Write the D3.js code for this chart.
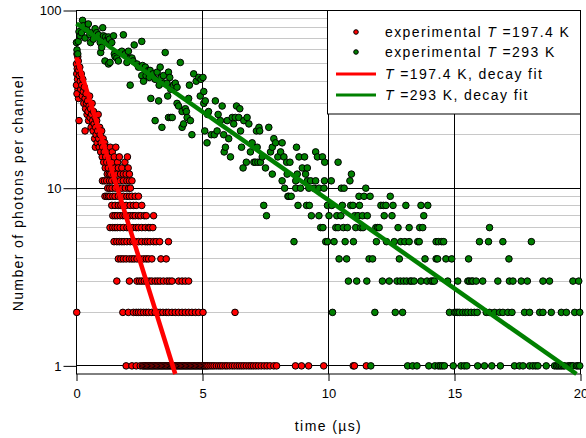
<!DOCTYPE html>
<html><head><meta charset="utf-8">
<script src="https://cdn.jsdelivr.net/npm/d3@7/dist/d3.min.js"></script>
<style>body{margin:0;background:#fff}svg{display:block;font-family:"Liberation Sans",Arial,sans-serif}</style>
</head><body><svg id="c" width="586" height="438"></svg>
<script>
const xTicks=[0,5,10,15,20];
const yTicks=[1,10,100];
const yMinor=[2,3,4,5,6,7,8,9,20,30,40,50,60,70,80,90];
const xTitle="time (µs)";
const yTitle="Number of photons per channel";
const legendTemps=["197.4","293"];
const legendColors=["#ff0000","#008000"];
// fitted single-exponential decays (straight lines on log axis): [t, counts] end points
const redFit=[[0,54.3],[3.92,0.9]];
const greenFit=[[0,84.5],[19.84,0.9]];
// T = 197.4 K, high-count part [time µs, counts]
const redHigh=[[0.00,50],[0.01,44],[0.02,57],[0.03,47],[0.04,41],[0.05,55],[0.06,36],[0.07,52],[0.08,32],[0.09,46],[0.10,24],[0.11,43],[0.00,38],[0.02,34],[0.13,48],[0.15,40],[0.17,36],[0.19,44],[0.21,38],[0.23,33],[0.25,41],[0.27,35],[0.29,30],[0.31,37],[0.34,21],[0.34,32],[0.36,28],[0.38,34],[0.40,30],[0.42,26],[0.44,31],[0.46,27],[0.48,24],[0.50,29],[0.52,33],[0.54,25],[0.56,28],[0.58,22],[0.60,26],[0.62,30],[0.64,24],[0.66,21],[0.68,27],[0.70,23],[0.72,19],[0.74,25],[0.75,17],[0.76,22],[0.78,20],[0.80,24],[0.82,18],[0.84,21],[0.86,26],[0.88,19],[0.90,17],[0.92,22],[0.94,20],[0.96,16],[0.98,18],[1.00,21],[1.02,15],[1.04,17],[1.06,19],[1.08,14],[1.10,16],[1.12,18],[1.14,13],[1.16,15],[1.18,17],[1.20,14],[1.22,12],[1.24,16],[1.26,13],[1.28,15],[1.30,12],[1.32,14],[1.34,17],[1.36,12],[1.38,15],[1.40,13],[1.42,16],[1.45,14],[1.48,12],[1.50,15],[1.53,13],[1.56,17],[1.60,12],[1.63,14],[1.66,13],[1.70,15],[1.75,12],[1.80,13],[1.86,12],[1.92,14],[1.97,12],[2.02,15],[2.05,13],[2.10,12]];
// T = 197.4 K, low-count levels and the times at which each level occurs
const redLevels=[11,10,9,8,7,6,5,4,3,2,1];
const redLevelTimes=[
[1.03,1.11,1.20,1.31,1.40,1.53,1.73,1.86,2.00,2.10,2.20],
[1.24,1.32,1.41,1.54,1.67,1.80,1.94,2.07,2.14],
[1.13,1.20,1.27,1.33,1.44,1.53,1.66,1.76,1.86,2.00,2.10,2.20,2.33,2.46],
[1.40,1.53,1.66,1.76,1.86,1.97,2.13,2.26,2.37,2.59],
[1.44,1.53,1.62,1.73,1.84,1.93,2.02,2.13,2.24,2.33,2.46,2.55,2.69,2.77,3.06],
[1.33,1.44,1.53,1.62,1.73,1.86,2.00,2.10,2.24,2.37,2.46,2.59,2.73,2.86,2.92,3.03],
[1.49,1.60,1.70,1.80,1.89,2.00,2.13,2.24,2.33,2.46,2.59,2.73,2.82,2.92,3.06,3.16,3.30,3.65],
[1.66,1.76,1.86,1.97,2.10,2.20,2.29,2.40,2.53,2.66,2.77,2.86,2.99,3.35,3.56],
[1.60,2.10,2.40,2.50,2.59,2.69,2.79,2.90,2.99,3.12,3.22,3.32,3.45,3.59,3.69,3.79,4.05,4.19,4.32,4.45],
[0.01,1.84,2.06,2.26,2.37,2.46,2.55,2.66,2.77,2.86,2.99,3.12,3.22,3.32,3.43,3.56,3.65,3.79,3.92,4.05,4.19,4.32,4.45,4.58,4.72,4.85,5.02,6.29],
[1.97,2.20,2.37,2.53,2.62,2.67,2.72,2.77,2.82,2.87,2.92,2.97,3.02,3.07,3.12,3.17,3.22,3.27,3.32,3.37,3.42,3.47,3.52,3.57,3.62,3.67,3.72,3.77,3.82,3.87,3.92,3.97,4.02,4.07,4.12,4.17,4.22,4.27,4.32,4.37,4.42,4.47,4.52,4.57,4.62,4.67,4.72,4.77,4.82,4.87,4.92,4.97,5.02,5.07,5.12,5.17,5.22,5.30,5.38,5.46,5.55,5.64,5.72,5.80,5.90,5.98,6.08,6.18,6.27,6.37,6.46,6.55,6.64,6.74,6.84,6.93,7.02,7.12,7.22,7.33,7.45,7.56,7.68,7.83,7.94,8.69,8.93,9.21,9.81,10.98,11.03,11.50]
];
// T = 293 K [time µs, counts]
const greenData=[[0.00,66],[0.02,60],[0.05,57],[0.07,67],[0.10,76],[0.14,72],[0.20,75],[0.24,88],[0.27,82],[0.34,70],[0.41,78],[0.47,84],[0.53,73],[0.56,66],[0.60,75],[0.67,69],[0.74,79],[0.80,75],[0.87,73],[0.94,66],[0.96,58],[1.00,62],[1.04,80],[1.07,72],[1.13,52],[1.15,71],[1.20,68],[1.27,71],[1.27,50],[1.31,69],[1.33,51],[1.40,66],[1.47,72],[1.50,57],[1.53,55],[1.60,54],[1.66,52],[1.73,58],[1.80,59],[1.86,73],[1.93,57],[2.00,51],[2.06,59],[2.13,54],[2.13,38],[2.20,54],[2.24,52],[2.29,64],[2.40,50],[2.46,48],[2.59,67],[2.62,49],[2.59,43],[2.66,40],[2.73,48],[2.76,43],[2.82,45],[2.86,46],[2.89,42],[2.92,46],[2.95,32],[3.03,44],[3.12,41],[3.12,24],[3.20,45],[3.26,31],[3.28,38],[3.32,48],[3.36,42],[3.39,22],[3.45,43],[3.48,39],[3.52,58],[3.59,39],[3.62,33],[3.65,45],[3.65,25],[3.70,42],[3.74,36],[3.74,25],[3.80,25],[3.85,38],[3.92,39],[3.99,37],[3.99,30],[4.05,29],[4.12,51],[4.19,27],[4.19,22],[4.25,23],[4.32,28],[4.36,27],[4.39,25],[4.45,32],[4.48,38],[4.52,24],[4.58,20],[4.65,44],[4.75,40],[4.85,42],[4.91,33],[4.94,41],[5.02,42],[5.05,35],[5.05,30],[5.09,21],[5.11,31],[5.18,18],[5.20,26],[5.24,27],[5.35,20],[5.47,20],[5.51,31],[5.58,21],[5.62,26],[5.71,24],[5.78,29],[5.84,20],[5.86,16],[5.91,17],[5.98,24],[6.04,19],[6.11,15],[6.18,25],[6.24,23],[6.30,25],[6.35,29],[6.44,25],[6.48,28],[6.51,21],[6.55,17],[6.61,13],[6.64,24],[6.74,14],[6.77,25],[6.84,23],[6.90,16],[6.97,18],[7.04,14],[7.10,14],[7.14,21],[7.17,17],[7.20,14],[7.24,22],[7.27,21],[7.30,14],[7.37,15],[7.43,8],[7.50,13],[7.54,7],[7.63,22],[7.70,16],[7.77,17],[7.77,12],[7.83,19],[7.90,18],[7.99,15],[8.10,16],[8.16,18],[8.16,11],[8.23,15],[8.26,10],[8.34,14],[8.36,12],[8.39,9],[8.43,9],[8.47,14],[8.52,9],[8.63,5],[8.70,10],[8.70,11],[8.73,17],[8.76,12],[8.79,8],[8.83,15],[8.89,10],[8.96,13],[9.05,15],[9.09,12],[9.13,8],[9.16,11],[9.16,13],[9.22,10],[9.24,8],[9.29,11],[9.32,7],[9.42,10],[9.49,11],[9.49,16],[9.56,15],[9.62,10],[9.62,7],[9.69,6],[9.76,15],[9.78,6],[9.82,10],[9.84,11],[9.85,14],[9.89,5],[9.96,5],[9.96,8],[10.02,7],[10.11,11],[10.13,8],[10.16,2],[10.22,5],[10.29,6],[10.33,7],[10.38,14],[10.38,6],[10.42,4],[10.49,7],[10.51,10],[10.55,8],[10.59,6],[10.62,10],[10.66,5],[10.72,4],[10.75,6],[10.79,3],[10.85,11],[10.88,8],[10.91,12],[10.97,8],[10.99,5],[11.04,7],[11.08,6],[11.12,3],[11.17,7],[11.21,9],[11.23,8],[11.28,6],[11.35,7],[11.37,6],[11.41,9],[11.48,10],[11.52,3],[11.54,7],[11.61,4],[11.65,9],[11.68,1],[11.75,4],[11.84,2],[11.88,6],[11.90,5],[11.95,6],[12.01,6],[12.08,8],[12.14,3],[12.18,8],[12.21,7],[12.28,8],[12.30,5],[12.41,3],[12.45,9],[12.52,7],[12.56,8],[12.61,5],[12.65,2],[12.72,3],[12.76,6],[12.81,4],[12.85,3],[12.87,5],[12.94,2],[12.98,3],[13.03,5],[13.07,8],[13.10,3],[13.14,1],[13.20,6],[13.20,5],[13.24,3],[13.30,3],[13.34,1],[13.40,3],[13.51,1],[13.54,5],[13.60,5],[13.62,6],[13.67,8],[13.67,3],[13.74,6],[13.78,7],[13.83,4],[13.91,3],[13.94,8],[13.98,1],[14.07,3],[14.14,3],[14.20,3],[14.22,1],[14.27,5],[14.27,4],[14.33,4],[14.36,5],[14.36,1],[14.44,1],[14.49,5],[14.52,1],[14.57,5],[14.60,1],[14.66,4],[14.73,3],[14.80,2],[14.89,4],[14.95,1],[15.00,2],[15.06,2],[15.13,3],[15.13,2],[15.20,2],[15.26,1],[15.33,2],[15.39,1],[15.44,2],[15.49,1],[15.53,3],[15.53,2],[15.56,4],[15.59,3],[15.66,2],[15.68,3],[15.73,3],[15.79,2],[15.86,3],[15.90,2],[15.92,1],[15.99,5],[16.12,3],[16.19,1],[16.26,2],[16.35,5],[16.39,6],[16.39,2],[16.48,1],[16.59,2],[16.72,3],[16.79,2],[16.82,1],[16.92,5],[16.92,2],[17.12,2],[17.16,4],[17.18,3],[17.28,2],[17.32,3],[17.38,1],[17.58,1],[17.65,3],[17.72,1],[17.78,2],[17.89,3],[17.98,1],[17.98,2],[18.05,5],[18.11,1],[18.22,1],[18.31,1],[18.38,2],[18.51,3],[18.51,2],[18.64,1],[18.77,3],[18.84,2],[18.97,1],[19.05,1],[19.11,1],[19.18,1],[19.24,1],[19.24,2],[19.31,1],[19.37,1],[19.44,2],[19.51,1],[19.58,1],[19.64,1],[19.70,1],[19.70,3],[19.77,2],[19.84,1],[19.90,1],[19.93,3],[19.97,2],[19.97,1]];

const redData=redHigh.concat(...redLevels.map((n,i)=>redLevelTimes[i].map(t=>[t,n])));

const svg=d3.select("#c");
const L=76.5,R=580.5,T=10.5,B=374;
const x=d3.scaleLinear().domain([0,20]).range([L,R]);
const y=d3.scaleLog().domain([0.9,100]).range([B,T]);
const snap=v=>Math.round(v-0.5)+0.5;

// minor grid
svg.append("g").selectAll("line").data(yMinor).join("line")
 .attr("x1",L).attr("x2",R).attr("y1",d=>snap(y(d))).attr("y2",d=>snap(y(d)))
 .attr("stroke","#c8c8c8").attr("stroke-width",1);
// major grid
svg.append("g").selectAll("line").data([1,10]).join("line")
 .attr("x1",L).attr("x2",R).attr("y1",d=>snap(y(d))).attr("y2",d=>snap(y(d)))
 .attr("stroke","#000").attr("stroke-width",1);
svg.append("g").selectAll("line").data([5,10,15]).join("line")
 .attr("x1",d=>snap(x(d))).attr("x2",d=>snap(x(d))).attr("y1",T).attr("y2",B)
 .attr("stroke","#000").attr("stroke-width",1);

// axes
const xAxis=d3.axisBottom(x).tickValues(xTicks).tickSize(7).tickFormat(d3.format("d"));
const gx=svg.append("g").attr("transform",`translate(0,${B})`).call(xAxis);
gx.select(".domain").remove();
gx.selectAll("line").attr("stroke","#000");
gx.selectAll("text").attr("font-size",13).attr("fill","#000").attr("dy",null).attr("y",24)
 .attr("font-family","Liberation Sans, Arial, sans-serif");
const yAxis=d3.axisLeft(y).tickValues(yTicks).tickSize(13).tickFormat(d3.format("d"));
const gy=svg.append("g").attr("transform",`translate(${L},0)`).call(yAxis);
gy.select(".domain").remove();
gy.selectAll("line").attr("stroke","#000");
gy.selectAll("text").attr("font-size",13).attr("fill","#000").attr("x",-15)
 .attr("font-family","Liberation Sans, Arial, sans-serif");

// frame
svg.append("rect").attr("x",L).attr("y",T).attr("width",R-L).attr("height",B-T)
 .attr("fill","none").attr("stroke","#000").attr("stroke-width",1);

// points
function pts(data,color){
 svg.append("g").selectAll("circle").data(data).join("circle")
  .attr("cx",d=>x(d[0])).attr("cy",d=>y(d[1])).attr("r",3.3)
  .attr("fill",color).attr("stroke","#000").attr("stroke-width",1);
}
pts(redData,legendColors[0]);
pts(greenData,legendColors[1]);

// fit lines
const line=d3.line().x(d=>x(d[0])).y(d=>y(d[1]));
svg.append("path").datum(redFit).attr("d",line).attr("stroke",legendColors[0]).attr("stroke-width",4.5).attr("fill","none");
svg.append("path").datum(greenFit).attr("d",line).attr("stroke",legendColors[1]).attr("stroke-width",4.5).attr("fill","none");

// axis titles
svg.append("text").attr("x",(L+R)/2).attr("y",431).attr("text-anchor","middle")
 .attr("font-size",14).attr("letter-spacing",1.4).text(xTitle);
svg.append("text").attr("transform","translate(23,193) rotate(-90)").attr("text-anchor","middle")
 .attr("font-size",14).attr("letter-spacing",1.4).text(yTitle);

// legend
const lg=svg.append("g");
lg.append("rect").attr("x",327.5).attr("y",T).attr("width",R-327.5).attr("height",103.5)
 .attr("fill","#fff").attr("stroke","#000");
const rows=[
 {kind:"dot",c:0,pre:"experimental ",post:" =197.4 K",y:32},
 {kind:"dot",c:1,pre:"experimental ",post:" =293 K",y:52},
 {kind:"line",c:0,pre:"",post:" =197.4 K, decay fit",y:74},
 {kind:"line",c:1,pre:"",post:" =293 K, decay fit",y:95}
];
rows.forEach(r=>{
 if(r.kind==="dot") lg.append("circle").attr("cx",356).attr("cy",r.y).attr("r",2.3)
   .attr("fill",legendColors[r.c]).attr("stroke","#000").attr("stroke-width",1);
 else lg.append("line").attr("x1",336).attr("x2",376).attr("y1",r.y).attr("y2",r.y)
   .attr("stroke",legendColors[r.c]).attr("stroke-width",3);
 const t=lg.append("text").attr("x",385).attr("y",r.y+5).attr("font-size",14).attr("letter-spacing",1.4);
 if(r.pre) t.append("tspan").text(r.pre);
 t.append("tspan").attr("font-style","italic").text("T");
 t.append("tspan").text(r.post);
});
</script></body></html>
